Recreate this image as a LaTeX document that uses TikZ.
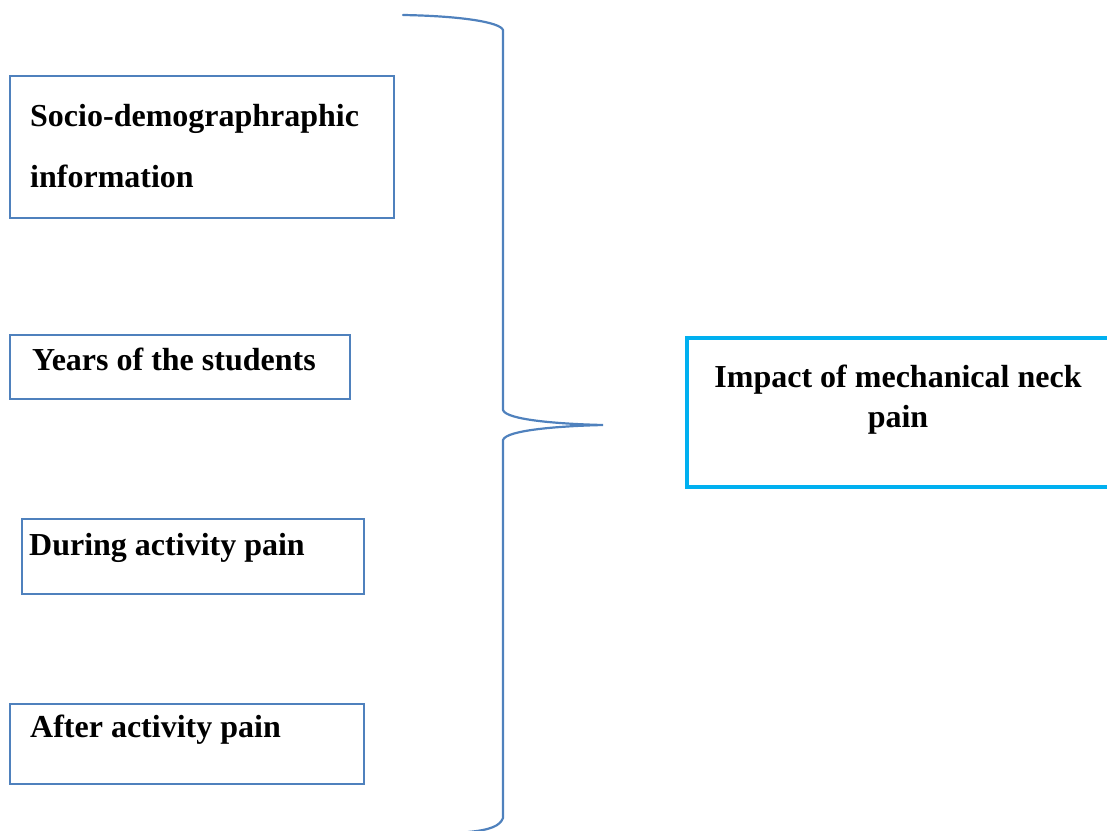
\documentclass[tikz,border=0pt]{standalone}
\usepackage{fontspec}
\setmainfont{Liberation Serif}
\usepackage{tikz}
\usetikzlibrary{positioning}

\definecolor{framblue}{RGB}{79,129,189}
\definecolor{impcyan}{RGB}{0,176,240}

\tikzset{
	inbox/.style={draw=framblue, line width=1.5pt, rectangle, inner sep=0pt, anchor=north west},
	outbox/.style={draw=impcyan, line width=4pt, rectangle, inner sep=0pt, anchor=north west},
	lbl/.style={inner sep=0pt, font=\fontsize{32}{61}\selectfont\bfseries},
	brace/.style={draw=framblue, line width=2.2pt, line cap=round}
}

\begin{document}
\begin{tikzpicture}[x=1pt, y=-1pt]
		\clip (0,0) rectangle (1107,830);
		% Boxes on the left:
		\node[inbox, minimum width=384pt, minimum height=142pt](socio) at (9,75){};
		\node[lbl, anchor=base west](sociotxt) at (30,126){Socio-demographraphic};
		\node[lbl, anchor=base west](sociotxtb) at (30,187){information};
		\node[inbox, minimum width=340pt, minimum height=64pt](years) at (9,334){};
		\node[lbl, anchor=base west](yearstxt) at (32,370){Years of the students};
		\node[inbox, minimum width=342pt, minimum height=75pt](during) at (21,518){};
		\node[lbl, anchor=base west](duringtxt) at (29,555){During activity pain};
		\node[inbox, minimum width=354pt, minimum height=80pt](after) at (9,703){};
		\node[lbl, anchor=base west](aftertxt) at (30,737){After activity pain};
		% Box on the right:
		\node[outbox, minimum width=460pt, minimum height=149pt](impact) at (685,336){};
		\node[lbl, anchor=base](impacttxt) at (898,387){Impact of mechanical neck};
		\node[lbl, anchor=base](impacttxtb) at (898,427){pain};
		% Brace:
		\coordinate (bracetop) at (403,15);
		\coordinate (tip) at (603,425);
		\coordinate (bracebot) at (468,832);
		\draw[brace] (bracetop) .. controls (460,16) and (500,22) .. (503,30) -- (503,410)
			.. controls (506,420) and (560,424) .. (tip)
			.. controls (560,426) and (506,430) .. (503,440) -- (503,818)
			.. controls (500,826) and (490,830) .. (bracebot);
	\end{tikzpicture}
\end{document}
